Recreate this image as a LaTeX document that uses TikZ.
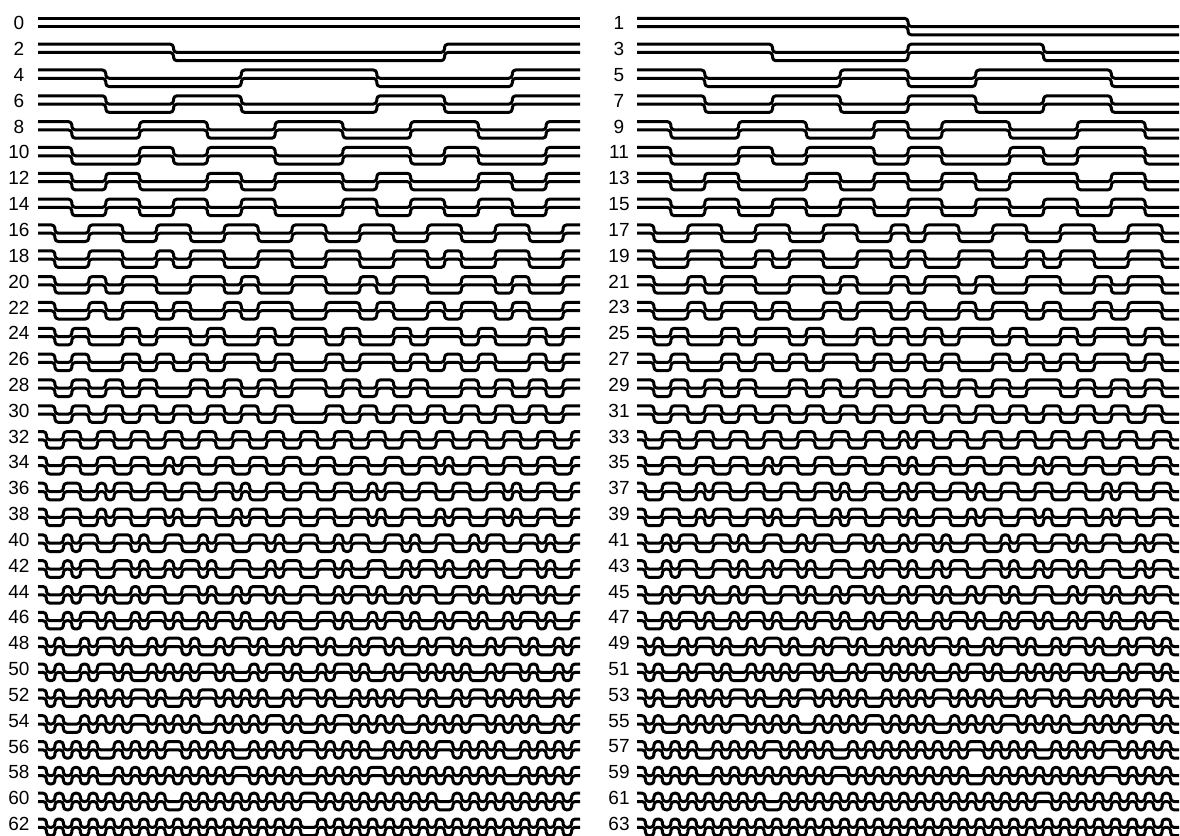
\documentclass[tikz,border=0pt]{standalone}
\usepackage{fontspec}
\setmainfont{Liberation Sans}
\tikzset{
  wave/.style={line width=3pt, rounded corners=3.4pt, line join=round},
  lab/.style={font=\fontsize{19}{19}\selectfont, inner sep=0pt, anchor=center}
}
\ExplSyntaxOn
\tl_new:N \g_wal_path_tl
\int_new:N \l_wal_prev_int
\int_new:N \l_wal_cur_int
\int_new:N \l_wal_col_int
\int_new:N \l_wal_row_int
\tl_new:N \l_wal_x_tl
\tl_new:N \l_wal_lx_tl
\tl_new:N \l_wal_y_tl
\fp_const:Nn \c_wal_unit_fp { 542 / 64 }
\cs_new:Npn \wal_pow:n #1
 { \int_case:nn {#1} { {0}{1} {1}{2} {2}{4} {3}{8} {4}{16} {5}{32} {6}{64} } }
\cs_new:Npn \wal_bit:nn #1#2
 { \int_mod:nn { \int_div_truncate:nn {#1} { \wal_pow:n {#2} } } { 2 } }
\cs_new:Npn \wal_g:nn #1#2
 { \int_mod:nn { \wal_bit:nn {#1}{#2} + \wal_bit:nn {#1}{\int_eval:n {#2+1}} } { 2 } }
\cs_new:Npn \wal_parity:nn #1#2
 {
  \int_mod:nn
   {
     \wal_g:nn {#1}{0} * \wal_bit:nn {#2}{5}
   + \wal_g:nn {#1}{1} * \wal_bit:nn {#2}{4}
   + \wal_g:nn {#1}{2} * \wal_bit:nn {#2}{3}
   + \wal_g:nn {#1}{3} * \wal_bit:nn {#2}{2}
   + \wal_g:nn {#1}{4} * \wal_bit:nn {#2}{1}
   + \wal_g:nn {#1}{5} * \wal_bit:nn {#2}{0}
   } { 2 }
 }
\cs_new_protected:Npn \wal_build:nnnn #1#2#3#4
 {
  \int_set:Nn \l_wal_prev_int { \wal_parity:nn {#1}{0} }
  \tl_gset:Nx \g_wal_path_tl { (#2, \fp_eval:n {#3 + #4 * \l_wal_prev_int}) }
  \int_step_inline:nnn {1} {63}
   {
    \int_set:Nn \l_wal_cur_int { \wal_parity:nn {#1}{##1} }
    \int_compare:nNnF \l_wal_cur_int = \l_wal_prev_int
     {
      \tl_gput_right:Nx \g_wal_path_tl
       { --(\fp_eval:n {#2 + ##1 * \c_wal_unit_fp}, \fp_eval:n {#3 + #4 * \l_wal_prev_int})
         --(\fp_eval:n {#2 + ##1 * \c_wal_unit_fp}, \fp_eval:n {#3 + #4 * \l_wal_cur_int}) }
      \int_set_eq:NN \l_wal_prev_int \l_wal_cur_int
     }
   }
  \tl_gput_right:Nx \g_wal_path_tl
   { --(\fp_eval:n {#2 + 542}, \fp_eval:n {#3 + #4 * \l_wal_prev_int}) }
 }
\cs_new_protected:Npn \wal_all:
 {
  \int_step_inline:nnn {0} {63}
   {
    \int_set:Nn \l_wal_col_int { \int_mod:nn {##1} {2} }
    \int_set:Nn \l_wal_row_int { \int_div_truncate:nn {##1} {2} }
    \tl_set:Nx \l_wal_x_tl { \int_compare:nNnTF \l_wal_col_int = 0 {38} {637} }
    \tl_set:Nx \l_wal_lx_tl { \int_compare:nNnTF \l_wal_col_int = 0 {19} {619} }
    \tl_set:Nx \l_wal_y_tl { \fp_eval:n { 18.3 + 25.83 * \l_wal_row_int } }
    \wal_build:nnnn {##1} {\l_wal_x_tl} {\l_wal_y_tl} {8.3}
    \use:x { \exp_not:N \draw [wave] \exp_not:V \g_wal_path_tl ; }
    \use:x { \exp_not:N \draw [wave,yshift=-8.3pt] \exp_not:V \g_wal_path_tl ; }
    \use:x { \exp_not:N \node [lab] (l##1) at (\l_wal_lx_tl, \fp_eval:n {\l_wal_y_tl + 5}) {##1}; }
   }
 }
\NewDocumentCommand \walshall {} { \wal_all: }
\ExplSyntaxOff
\begin{document}
\begin{tikzpicture}[x=1pt,y=-1pt]
\useasboundingbox (0,0) rectangle (1180,835);
\fill[white] (0,0) rectangle (1180,835);
\walshall
\end{tikzpicture}
\end{document}
